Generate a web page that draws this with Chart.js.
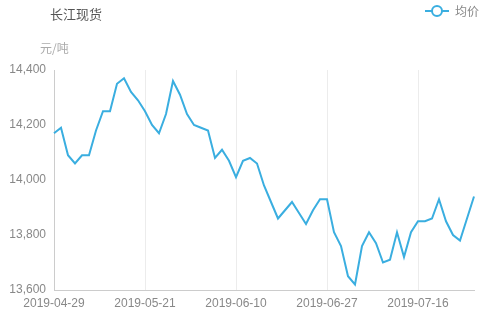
<!DOCTYPE html>
<html>
<head>
<meta charset="utf-8">
<script src="https://cdn.jsdelivr.net/npm/chart.js@4/dist/chart.umd.min.js"></script>
<style>
  html, body { margin: 0; padding: 0; background: #fff; }
  #wrap { position: relative; width: 491px; height: 316px; }
  canvas { position: absolute; left: 0; top: 0; }
  .txt { position: absolute; font-family: "Noto Sans CJK SC", sans-serif; white-space: nowrap; }
  #title { left: 50px; top: 4px; font-size: 13px; color: #555; }
  #unit { left: 40px; top: 39px; font-size: 12px; color: #aaa; }
  #legend { left: 425px; top: 2px; font-size: 12px; color: #888; display: flex; align-items: center; }
  #legend svg { margin-right: 6px; }
</style>
</head>
<body>
<div id="wrap">
  <canvas id="c" width="491" height="316"></canvas>
  <div class="txt" id="title">长江现货</div>
  <div class="txt" id="unit">元/吨</div>
  <div class="txt" id="legend"><svg width="24" height="14"><line x1="0" y1="7" x2="24" y2="7" stroke="#3aaee0" stroke-width="2"/><circle cx="12" cy="7" r="5" fill="#fff" stroke="#3aaee0" stroke-width="2"/></svg>均价</div>
</div>
<script>
const seriesName = "均价";
const dates = [
  "2019-04-29","2019-04-30","2019-05-06","2019-05-07","2019-05-08","2019-05-09","2019-05-10",
  "2019-05-13","2019-05-14","2019-05-15","2019-05-16","2019-05-17","2019-05-20","2019-05-21",
  "2019-05-22","2019-05-23","2019-05-24","2019-05-27","2019-05-28","2019-05-29","2019-05-30",
  "2019-05-31","2019-06-03","2019-06-04","2019-06-05","2019-06-06","2019-06-10","2019-06-11",
  "2019-06-12","2019-06-13","2019-06-14","2019-06-17","2019-06-18","2019-06-19","2019-06-20",
  "2019-06-21","2019-06-24","2019-06-25","2019-06-26","2019-06-27","2019-06-28","2019-07-01",
  "2019-07-02","2019-07-03","2019-07-04","2019-07-05","2019-07-08","2019-07-09","2019-07-10",
  "2019-07-11","2019-07-12","2019-07-15","2019-07-16","2019-07-17","2019-07-18","2019-07-19",
  "2019-07-22","2019-07-23","2019-07-24","2019-07-25","2019-07-26"
];
const prices = [
  14170,14190,14090,14060,14090,14090,14180,14250,14250,14350,14370,14320,14290,14250,
  14200,14170,14240,14360,14310,14240,14200,14190,14180,14080,14110,14070,14010,14070,
  14080,14060,13980,13920,13860,13890,13920,13880,13840,13890,13930,13930,13810,13760,
  13650,13620,13760,13810,13770,13700,13710,13810,13720,13810,13850,13850,13860,13930,
  13850,13800,13780,13860,13940
];
const shownTickLabels = ["2019-04-29","2019-05-21","2019-06-10","2019-06-27","2019-07-16"];
const yTicks = [13600, 13800, 14000, 14200, 14400];

const tickFont = { family: "'Liberation Sans', 'DejaVu Sans', sans-serif", size: 12 };

new Chart(document.getElementById('c'), {
  type: 'line',
  data: {
    labels: dates,
    datasets: [{
      label: seriesName,
      data: prices,
      borderColor: '#3aaee0',
      backgroundColor: '#3aaee0',
      borderWidth: 2,
      pointRadius: 0,
      tension: 0,
      fill: false
    }]
  },
  options: {
    responsive: false,
    animation: false,
    layout: { padding: { left: 0, right: 17, top: 70, bottom: 0 } },
    plugins: { legend: { display: false }, title: { display: false }, tooltip: { enabled: false } },
    scales: {
      x: {
        type: 'category',
        offset: false,
        afterFit: s => { s.height = 26; },
        grid: {
          drawTicks: false,
          color: c => (c.tick && shownTickLabels.includes(dates[c.index]) && c.index !== 0) ? '#ececec' : 'rgba(0,0,0,0)',
          lineWidth: 1
        },
        border: { display: true, color: '#cccccc', width: 1 },
        ticks: {
          autoSkip: false,
          maxRotation: 0,
          minRotation: 0,
          padding: 6,
          color: '#888',
          font: tickFont,
          callback: function(v, i) { const l = dates[i]; return shownTickLabels.includes(l) ? l : ''; }
        }
      },
      y: {
        min: 13600,
        max: 14400,
        afterFit: s => { s.width = 54; },
        afterBuildTicks: s => { s.ticks = yTicks.map(v => ({ value: v })); },
        grid: { display: false, drawTicks: false },
        border: { display: true, color: '#cccccc', width: 1 },
        ticks: {
          padding: 8,
          color: '#888',
          font: tickFont,
          callback: v => Number(v).toLocaleString('en-US')
        }
      }
    }
  }
});
</script>
</body>
</html>
